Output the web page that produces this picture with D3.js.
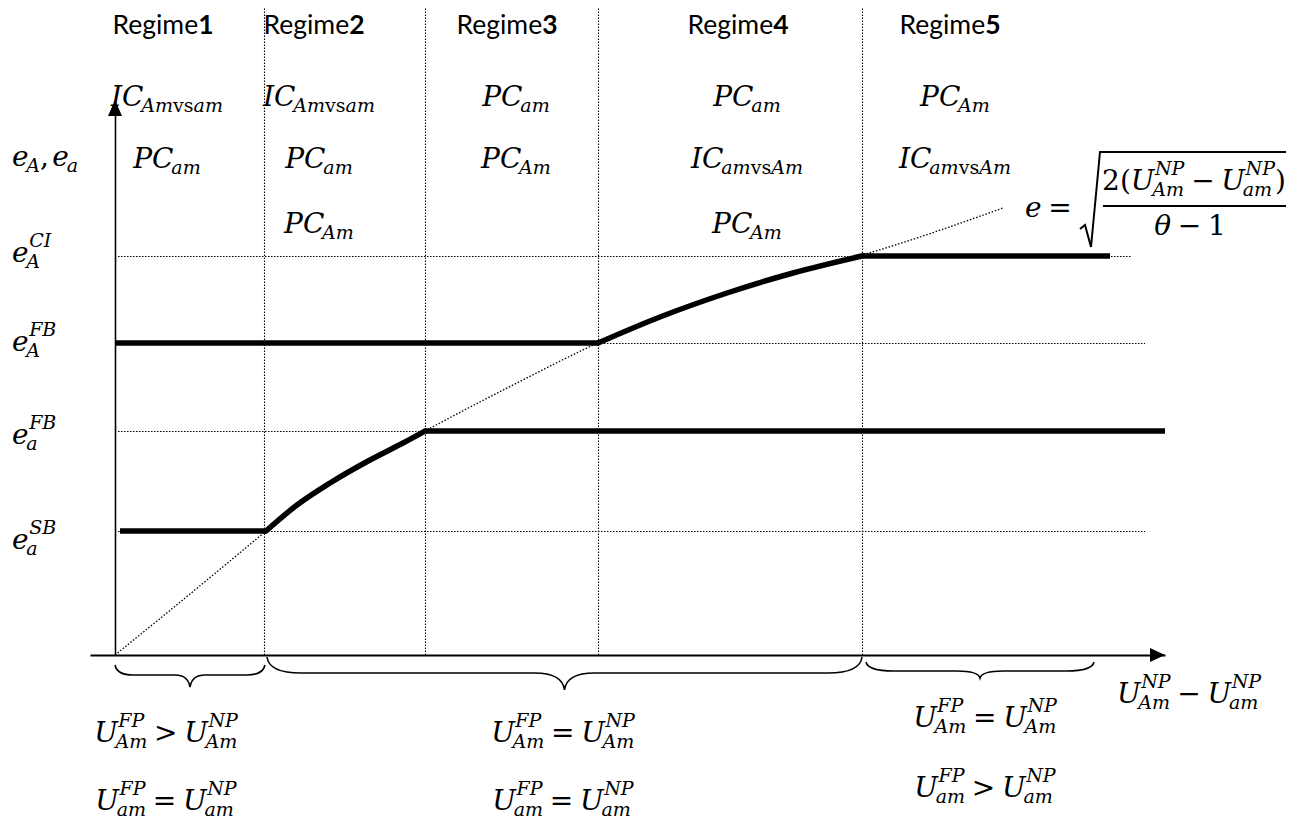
<!DOCTYPE html>
<html>
<head>
<meta charset="utf-8">
<title>Regimes</title>
<script src="https://d3js.org/d3.v7.min.js"></script>
<style>
  body { margin: 0; background: #fff; }
  text { font-family: "DejaVu Serif", serif; fill: #000; }
  .reg { font-family: Lato, "Open Sans", sans-serif; }
</style>
</head>
<body>
<script>
// ---- data (x units: distance from origin, y units: height above x axis) ----
var regimeNums = ["1", "2", "3", "4", "5"];
var regimeEdges = [149, 310, 483, 747];

var levelValues = [124, 224, 312, 399];           // e_a^SB, e_a^FB, e_A^FB, e_A^CI
var levelLabels = [
  [{b: "e", s: "a", p: "SB"}],
  [{b: "e", s: "a", p: "FB"}],
  [{b: "e", s: "A", p: "FB"}],
  [{b: "e", s: "A", p: "CI"}]
];
var levelEnds = [1030, 1030, 1030, 1017];

// thick e_A line
var eAX = [0, 483, 545, 612, 678, 747, 995];
var eAY = [312, 312, 338, 362, 382, 399, 399];
// thick e_a line
var eaX = [5, 151, 182, 215, 255, 288, 310, 1050];
var eaY = [124, 124, 150, 172, 195, 212, 224, 224];
// dotted curve e = sqrt(2(U_Am - U_am)/(theta-1))
var curveX = [0, 42, 151, 182, 215, 255, 288, 310, 396, 483, 545, 612, 678, 747, 888];
var curveY = [0, 34, 124, 150, 172, 195, 212, 224, 269, 312, 338, 362, 382, 400, 447];

// contract labels in each regime
var regimeRows = [
  [{b: "IC", s: "Amvsam"}, {b: "PC", s: "am"}],
  [{b: "IC", s: "Amvsam"}, {b: "PC", s: "am"}, {b: "PC", s: "Am"}],
  [{b: "PC", s: "am"}, {b: "PC", s: "Am"}],
  [{b: "PC", s: "am"}, {b: "IC", s: "amvsAm"}, {b: "PC", s: "Am"}],
  [{b: "PC", s: "Am"}, {b: "IC", s: "amvsAm"}]
];

// braces under the x axis
var braceSpans = [[0, 150], [152, 747], [751, 979]];
var braceRows = [
  [[{b: "U", s: "Am", p: "FP"}, {op: ">"}, {b: "U", s: "Am", p: "NP"}],
   [{b: "U", s: "am", p: "FP"}, {op: "="}, {b: "U", s: "am", p: "NP"}]],
  [[{b: "U", s: "Am", p: "FP"}, {op: "="}, {b: "U", s: "Am", p: "NP"}],
   [{b: "U", s: "am", p: "FP"}, {op: "="}, {b: "U", s: "am", p: "NP"}]],
  [[{b: "U", s: "Am", p: "FP"}, {op: "="}, {b: "U", s: "Am", p: "NP"}],
   [{b: "U", s: "am", p: "FP"}, {op: ">"}, {b: "U", s: "am", p: "NP"}]]
];

var yAxisLabel = [{b: "e", s: "A"}, {u: ",", gap: 0.12}, {b: "e", s: "a"}];
var xAxisLabel = [{b: "U", s: "Am", p: "NP"}, {op: "\u2212"}, {b: "U", s: "am", p: "NP"}];
var numerLabel = [{u: "2("}, {b: "U", s: "Am", p: "NP"}, {op: "\u2212"}, {b: "U", s: "am", p: "NP"}, {u: ")"}];
var denomLabel = [{b: "\u03B8"}, {op: "\u2212"}, {u: "1"}];

// ---- layout ----
var W = 1302, H = 832, FS = 28;
var svg = d3.select("body").append("svg").attr("width", W).attr("height", H);

var x = d3.scaleLinear().domain([-25, 1050]).range([90, 1165]);
var y = d3.scaleLinear().domain([0, 554]).range([655, 101]);

function scriptText(g, str, sx, sy, size) {
  var t = g.append("text").attr("x", sx).attr("y", sy).attr("font-size", size);
  str.split(/(vs)/).forEach(function(part) {
    if (!part) return;
    t.append("tspan").attr("font-style", part === "vs" ? "normal" : "italic").text(part);
  });
  return t.node().getComputedTextLength();
}

function mathGroup(tokens, fs) {
  var g = svg.append("g");
  var cx = 0, small = fs * 0.68;
  tokens.forEach(function(t) {
    if (t.op) {
      cx += fs * 0.24;
      var o = g.append("text").attr("x", cx).attr("font-size", fs).text(t.op);
      cx += o.node().getComputedTextLength() + fs * 0.24;
    } else if (t.u) {
      var u = g.append("text").attr("x", cx).attr("font-size", fs).text(t.u);
      cx += u.node().getComputedTextLength() + (t.gap || 0) * fs;
    } else {
      var b = g.append("text").attr("x", cx).attr("font-size", fs)
        .attr("font-style", "italic").text(t.b);
      var w = b.node().getComputedTextLength();
      var ws = 0, wp = 0;
      if (t.s) ws = scriptText(g, t.s, cx + w - fs * 0.08, fs * 0.2, small) - fs * 0.08;
      if (t.p) wp = scriptText(g, t.p, cx + w + fs * 0.02, -fs * 0.55, small) + fs * 0.02;
      cx += w + Math.max(ws, wp);
    }
  });
  return {g: g, w: cx};
}

function placeMath(tokens, fs, px, py, anchor) {
  var m = mathGroup(tokens, fs);
  var dx = anchor === "middle" ? px - m.w / 2 : px;
  m.g.attr("transform", "translate(" + dx + "," + py + ")");
  return m;
}

// dotted grid: regime boundaries and levels
svg.append("g").selectAll("line").data(regimeEdges).enter().append("line")
  .attr("x1", function(d) { return Math.round(x(d)) + 0.5; })
  .attr("x2", function(d) { return Math.round(x(d)) + 0.5; })
  .attr("y1", y(0)).attr("y2", y(647))
  .attr("stroke", "#000").attr("stroke-width", 1.1).attr("stroke-dasharray", "1.5,1.5");

svg.append("g").selectAll("line").data(levelValues).enter().append("line")
  .attr("x1", x(3)).attr("x2", function(d, i) { return x(levelEnds[i]); })
  .attr("y1", function(d) { return Math.round(y(d)) + 0.5; })
  .attr("y2", function(d) { return Math.round(y(d)) + 0.5; })
  .attr("stroke", "#000").attr("stroke-width", 1.1).attr("stroke-dasharray", "1.5,1.5");

// dotted curve
var line = d3.line().x(function(d) { return x(d[0]); }).y(function(d) { return y(d[1]); });
svg.append("path").datum(d3.zip(curveX, curveY))
  .attr("d", line.curve(d3.curveMonotoneX))
  .attr("fill", "none").attr("stroke", "#000").attr("stroke-width", 1.3).attr("stroke-dasharray", "1.5,1.8");

// axes
var xAxis = svg.append("g").attr("transform", "translate(0," + y(0) + ")")
  .call(d3.axisBottom(x).tickValues([]).tickSizeOuter(0));
xAxis.select(".domain").attr("stroke-width", 2.2);
var yAxis = svg.append("g").attr("transform", "translate(" + x(0) + ",0)")
  .call(d3.axisLeft(y).tickValues([]).tickSizeOuter(0));
yAxis.select(".domain").attr("stroke-width", 1.6);

svg.append("path")
  .attr("d", "M" + x(1050) + "," + y(0) + "l-15,-7v14z").attr("fill", "#000");
svg.append("path")
  .attr("d", "M" + x(0) + "," + (y(554) - 1) + "l-7,16h14z").attr("fill", "#000");

// thick lines: flat parts straight, rising parts smooth
var straight = d3.line().x(function(d) { return x(d[0]); }).y(function(d) { return y(d[1]); });
var smooth = d3.line().x(function(d) { return x(d[0]); }).y(function(d) { return y(d[1]); })
  .curve(d3.curveMonotoneX);
function drawThick(xs, ys) {
  var pts = d3.zip(xs, ys), run = [];
  function flush() {
    if (run.length > 1) svg.append("path").datum(run).attr("d", smooth)
      .attr("fill", "none").attr("stroke", "#000").attr("stroke-width", 5.5).attr("stroke-linecap", "round");
    run = [];
  }
  for (var i = 0; i < pts.length - 1; i++) {
    if (pts[i][1] === pts[i + 1][1]) {
      flush();
      svg.append("path").datum([pts[i], pts[i + 1]]).attr("d", straight)
        .attr("fill", "none").attr("stroke", "#000").attr("stroke-width", 5.5);
    } else {
      if (!run.length) run.push(pts[i]);
      run.push(pts[i + 1]);
    }
  }
  flush();
}
drawThick(eAX, eAY);
drawThick(eaX, eaY);

// braces
var braceTop = [665, 657, 662], braceFlat = [675, 673, 671], braceTip = [687, 690, 678];
function bracePath(x1, x2, yt, yf, yp) {
  var xm = (x1 + x2) / 2, r = Math.min(34, (x2 - x1) * 0.12), r2 = Math.min(30, (x2 - x1) * 0.1);
  return "M" + x1 + "," + yt +
    "Q" + (x1 + 2) + "," + yf + " " + (x1 + r) + "," + yf +
    "L" + (xm - r2) + "," + yf +
    "Q" + (xm - 2) + "," + yf + " " + xm + "," + yp +
    "Q" + (xm + 2) + "," + yf + " " + (xm + r2) + "," + yf +
    "L" + (x2 - r) + "," + yf +
    "Q" + (x2 - 2) + "," + yf + " " + x2 + "," + yt;
}
svg.append("g").selectAll("path").data(braceSpans).enter().append("path")
  .attr("d", function(d, i) { return bracePath(x(d[0]), x(d[1]), braceTop[i], braceFlat[i], braceTip[i]); })
  .attr("fill", "none").attr("stroke", "#000").attr("stroke-width", 1.6);

// regime titles
var titleCx = [163, 314, 507, 738, 950];
regimeNums.forEach(function(n, i) {
  var t = svg.append("text").attr("class", "reg").attr("x", titleCx[i]).attr("y", 34)
    .attr("text-anchor", "middle").attr("font-size", 26.5);
  t.append("tspan").text("Regime");
  t.append("tspan").attr("font-weight", "bold").text(n);
});

// contract labels
var colCx = [167, 319, 516, 747, 955];
var rowY = [106, 168, 233];
regimeRows.forEach(function(rows, i) {
  rows.forEach(function(tok, j) {
    placeMath([tok], FS, colCx[i], rowY[j], "middle");
  });
});

// y labels
placeMath(yAxisLabel, FS, 12, 166);
var levelY = [549, 444, 351, 262];
levelLabels.forEach(function(l, i) { placeMath(l, FS, 12, levelY[i]); });

// bottom labels
var botCx = [166, 563, 985], botY = [[742, 810], [742, 810], [727, 797]];
braceRows.forEach(function(rows, i) {
  rows.forEach(function(r, j) { placeMath(r, FS, botCx[i], botY[i][j], "middle"); });
});

// x label
placeMath(xAxisLabel, FS, 1117, 703);

// formula
placeMath([{b: "e"}, {op: "="}], FS, 1025, 217);
svg.append("path").attr("d", "M1080,229L1085,225L1091,247L1100,152H1286")
  .attr("fill", "none").attr("stroke", "#000").attr("stroke-width", 2);
svg.append("line").attr("x1", 1103).attr("x2", 1286).attr("y1", 206).attr("y2", 206)
  .attr("stroke", "#000").attr("stroke-width", 2);
placeMath(numerLabel, FS, 1194, 190, "middle");
placeMath(denomLabel, FS, 1190, 235, "middle");
</script>
</body>
</html>
